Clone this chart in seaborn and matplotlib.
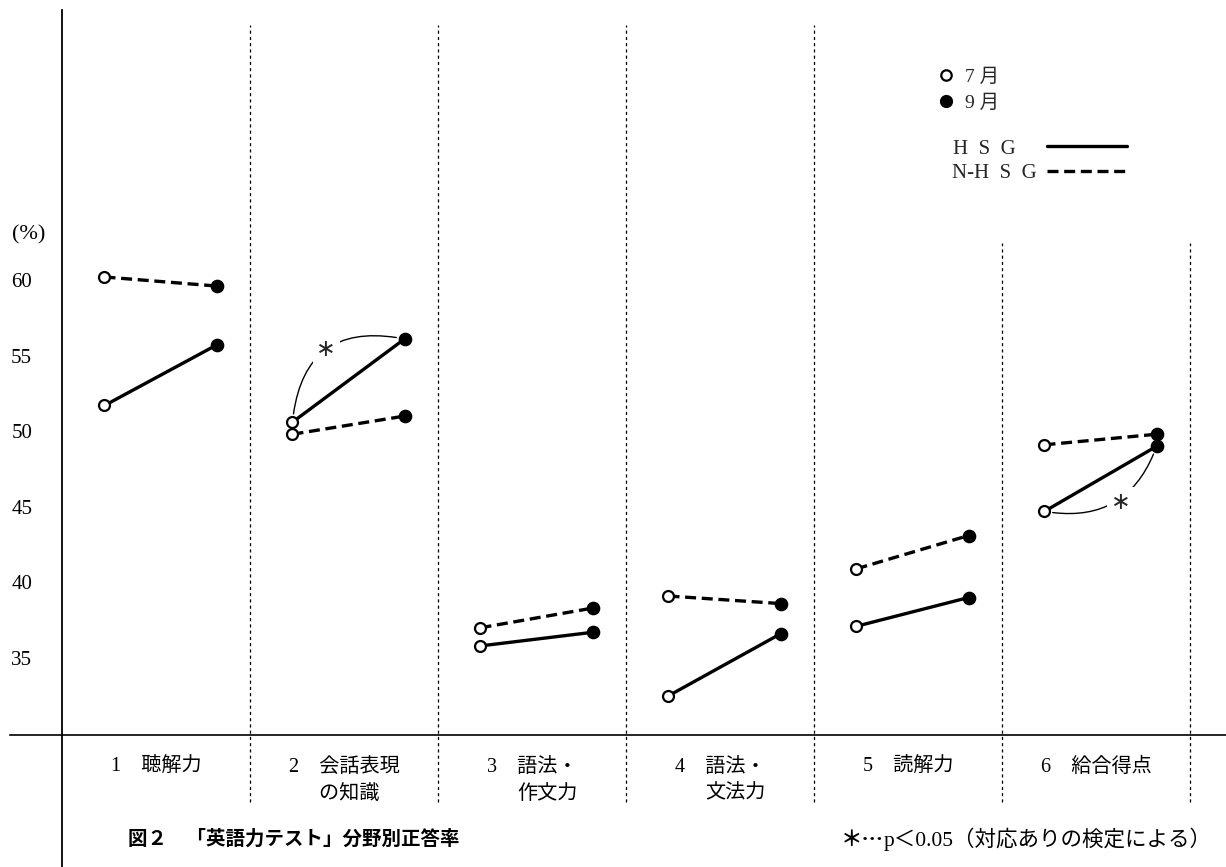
import numpy as np
import pandas as pd
import matplotlib
matplotlib.use("Agg")
import matplotlib.pyplot as plt
import seaborn as sns
from matplotlib.lines import Line2D
from matplotlib.patches import FancyArrowPatch

# ---------------- data ----------------
categories = ["1　聴解力", "2　会話表現\nの知識　", "3　語法・\n作文力",
              "4　語法・\n文法力", "5　読解力", "6　給合得点"]
groups = ["HSG", "N-HSG"]
months = ["7月", "9月"]
hsg_jul = [51.7, 50.6, 35.8, 32.5, 37.1, 44.7]
hsg_sep = [55.7, 56.1, 36.7, 36.6, 39.0, 49.0]
nhsg_jul = [60.2, 49.8, 37.0, 39.1, 40.9, 49.1]
nhsg_sep = [59.6, 51.0, 38.3, 38.6, 43.1, 49.8]
yticks = [35, 40, 45, 50, 55, 60]
significant = [(1, "HSG"), (5, "HSG")]

# ---------------- layout helpers ----------------
W, H = 1226, 867
def fx(px): return px / W
def fy(py): return 1 - py / H
def dx(px): return -0.5 + (px - 62) / 188.0
def dy(py): return 60 - (py - 280) / 15.12

month_off = {"7月": -0.274, "9月": 0.322}

rows = []
vals = {("HSG", "7月"): hsg_jul, ("HSG", "9月"): hsg_sep,
        ("N-HSG", "7月"): nhsg_jul, ("N-HSG", "9月"): nhsg_sep}
for (g, m), arr in vals.items():
    for i, v in enumerate(arr):
        rows.append(dict(cat=i, group=g, month=m, value=v,
                         x=i + month_off[m], seg=f"{g}-{i}"))
df = pd.DataFrame(rows)

sns.set_theme(style="white")
plt.rcParams["font.family"] = ["Liberation Serif", "Noto Sans CJK JP", "DejaVu Sans"]

fig = plt.figure(figsize=(W / 100, H / 100), dpi=100)
ax = fig.add_axes([0, 0, 1, 1])
ax.set_facecolor("white")

ax.set_xlim(dx(0), dx(W))
ax.set_ylim(dy(H), dy(0))
base = dy(735)

# separators
for k in range(6):
    xpos = k + 0.5
    top = dy(25) if k < 4 else dy(243)
    ax.vlines(xpos, dy(802), top, colors="black", linewidth=0.9,
              linestyles=(0, (2.5, 2.5)), zorder=1)

# lines
sns.lineplot(data=df, x="x", y="value", units="seg", estimator=None,
             style="group", dashes={"HSG": "", "N-HSG": (3.3, 1.7)},
             color="black", linewidth=2.4, legend=False, sort=True, ax=ax, zorder=3)
sns.scatterplot(data=df[df.month == "7月"], x="x", y="value", marker="o", s=62,
                color="white", edgecolor="black", linewidth=1.6, zorder=5,
                legend=False, ax=ax)
sns.scatterplot(data=df[df.month == "9月"], x="x", y="value", marker="o", s=78,
                color="black", edgecolor="black", linewidth=1.0, zorder=5,
                legend=False, ax=ax)

# significance arcs
sig_geom = {1: (-0.55, (-16, 23)), 5: (0.42, (14.6, -17))}
for ci, g in significant:
    sub = df[(df.cat == ci) & (df.group == g)].sort_values("x")
    (x1, y1), (x2, y2) = sub[["x", "value"]].values
    rad, off = sig_geom[ci]
    arc = FancyArrowPatch((x1, y1), (x2, y2), arrowstyle="-",
                          connectionstyle=f"arc3,rad={rad}", shrinkA=6, shrinkB=6,
                          color="black", lw=1.0, zorder=2)
    ax.add_patch(arc)
    ax.annotate("∗", xy=((x1 + x2) / 2, (y1 + y2) / 2), xytext=off,
                textcoords="offset points", ha="center", va="center",
                fontsize=17, family="DejaVu Sans", zorder=4,
                bbox=dict(boxstyle="square,pad=0.15", fc="white", ec="none"))

# axes / spines
for s in ["top", "right"]:
    ax.spines[s].set_visible(False)
ax.spines["left"].set_position(("data", -0.5))
ax.spines["left"].set_bounds(dy(H), dy(10))
ax.spines["left"].set_color("black")
ax.spines["left"].set_linewidth(1.3)
ax.spines["bottom"].set_position(("data", base))
ax.spines["bottom"].set_bounds(dx(10), dx(W))
ax.spines["bottom"].set_color("black")
ax.spines["bottom"].set_linewidth(1.2)

ax.set_yticks(yticks)
ax.set_yticklabels([str(t) for t in yticks])
ax.set_xticks(range(len(categories)))
ax.set_xticklabels(categories)
ax.tick_params(axis="y", length=0, pad=21.5, labelsize=15, colors="black")
ax.tick_params(axis="x", length=0, pad=16.5, labelsize=14.5, colors="black")
for lbl in ax.get_xticklabels():
    lbl.set_multialignment("right")
    lbl.set_linespacing(1.55)
ax.set_xlabel("")
ax.set_ylabel("")

fig.text(fx(45), fy(235), "(%)", ha="right", va="center", fontsize=16, color="black")

# legends
h_jul = Line2D([], [], ls="none", marker="o", ms=7.5, mfc="white", mec="black", mew=1.6)
h_sep = Line2D([], [], ls="none", marker="o", ms=8.5, mfc="black", mec="black")
leg1 = ax.legend([h_jul, h_sep], ["7 月", "9 月"], loc="upper left",
                 bbox_to_anchor=(fx(938), fy(68)), bbox_transform=fig.transFigure,
                 frameon=False, handlelength=0.8, handletextpad=0.6,
                 labelspacing=0.45, borderpad=0, borderaxespad=0, fontsize=14)
ax.add_artist(leg1)
h_h = Line2D([], [], color="black", lw=2.4)
h_n = Line2D([], [], color="black", lw=2.4, ls=(0, (3.3, 1.7)))
leg2 = ax.legend([h_h, h_n], ["H  S  G\u2007\u2007", "N-H  S  G"], loc="upper left",
                 bbox_to_anchor=(fx(952), fy(139)), bbox_transform=fig.transFigure,
                 frameon=False, markerfirst=False, handlelength=3.85,
                 handletextpad=0.5, labelspacing=0.25, borderpad=0,
                 borderaxespad=0, fontsize=15)

# title and note
fig.text(fx(128), fy(839), "図２　「英語力テスト」分野別正答率", ha="left", va="center",
         fontsize=14, fontweight="bold", family=["Noto Sans CJK JP", "DejaVu Sans"],
         color="black")
t2 = fig.text(fx(1212), fy(839), "p＜0.05（対応ありの検定による）", ha="right",
              va="center", fontsize=15.5, color="black")
ax.annotate("＊…", xy=(0, 0.5), xycoords=t2, ha="right", va="center",
            fontsize=15.5, family=["Noto Sans CJK JP"], fontweight="bold",
            color="black", annotation_clip=False)

fig.savefig("out.png", dpi=100, facecolor="white")
